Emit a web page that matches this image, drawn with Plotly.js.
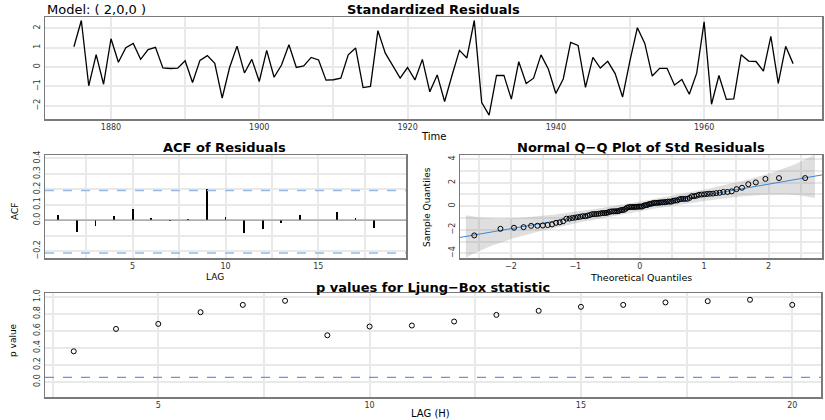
<!DOCTYPE html>
<html><head><meta charset="utf-8">
<script src="https://cdn.plot.ly/plotly-3.0.1.min.js"></script>
<style>html,body{margin:0;padding:0;background:#fff}</style>
</head><body><div id="chart" style="width:825px;height:420px"></div>
<script>
// ---------- data ----------
const startYear = 1875;
const residuals = [
 1.04, 2.39, -0.97, 0.63, -0.89, 1.45, 0.24, 0.99, 1.21, 0.39,
 0.89, 1.01, -0.05, -0.08, -0.06, 0.32, -0.80, 0.34, 0.58, 0.19,
 -1.60, -0.03, 1.07, -0.31, 0.39, -0.75, 0.85, -0.53, 0.10, 1.14,
 -0.03, 0.05, 0.49, 0.36, -0.68, -0.66, -0.58, 0.62, 0.97, -1.06,
 -1.00, 1.87, 0.71, 0.09, -0.57, -0.03, -0.67, 0.39, -1.28, -0.41,
 -1.78, -0.43, 0.85, 0.46, 2.39, -1.83, -2.48, -0.44, -0.43, -1.66,
 0.27, -0.85, -0.58, 0.62, -0.12, -1.37, -0.62, 1.26, 1.11, -1.05,
 0.49, -0.06, 0.29, -0.34, -1.55, 0.33, 2.02, 1.21, -0.47, -0.07,
 -0.07, -0.93, -0.64, -1.41, -0.32, 2.32, -1.92, -0.44, -1.67, -1.64,
 0.63, 0.30, 0.28, -0.22, 1.57, -0.85, 1.06, 0.17
];
const acfLags = [1,2,3,4,5,6,7,8,9,10,11,12,13,14,15,16,17,18,19];
const acfValues = [0.032,-0.080,-0.037,0.028,0.073,0.011,-0.004,0.009,0.200,0.019,
                   -0.084,-0.058,-0.017,0.032,0.001,0.054,0.013,-0.049,-0.002];
const lbLags = [3,4,5,6,7,8,9,10,11,12,13,14,15,16,17,18,19,20];
const lbPValues = [0.358,0.622,0.681,0.819,0.905,0.953,0.547,0.650,0.662,0.709,
                   0.787,0.835,0.882,0.905,0.934,0.949,0.965,0.905];
const modelLabel = 'Model: ( 2,0,0 )';
const pLevel = 0.05;
const bandScale = 0.32;   // width of the Q-Q envelope

// tick / grid positions and labels
const yearTicks = [1880,1890,1900,1910,1920,1930,1940,1950,1960,1970];
const yearLabels = ['1880','','1900','','1920','','1940','','1960',''];
const resTicks = [-2,-1,0,1,2];
const resLabels = ['\u22122','\u22121','0','1','2'];
const acfXTicks = [2.5,5,7.5,10,12.5,15,17.5];
const acfXLabels = ['','5','','10','','15',''];
const acfYTicks = [-0.2,-0.1,0,0.1,0.2,0.3,0.4];
const acfYLabels = ['\u22120.2','','0.0','0.1','0.2','0.3','0.4'];
const qqXTicks = [-2.5,-2,-1.5,-1,-0.5,0,0.5,1,1.5,2,2.5];
const qqXLabels = ['','\u22122','','\u22121','','0','','1','','2',''];
const qqYTicks = [-4,-3,-2,-1,0,1,2,3,4];
const qqYLabels = ['\u22124','','\u22122','','0','','2','','4'];
const lbXTicks = [2.5,5,7.5,10,12.5,15,17.5,20];
const lbXLabels = ['','5','','10','','15','','20'];
const lbYTicks = [0,0.2,0.4,0.6,0.8,1.0];
const lbYLabels = ['0.0','0.2','0.4','0.6','0.8','1.0'];

// ---------- helpers ----------
function qnorm(p){
 const a=[-3.969683028665376e+01,2.209460984245205e+02,-2.759285104469687e+02,1.383577518672690e+02,-3.066479806614716e+01,2.506628277459239e+00];
 const b=[-5.447609879822406e+01,1.615858368580409e+02,-1.556989798598866e+02,6.680131188771972e+01,-1.328068155288572e+01];
 const c=[-7.784894002430293e-03,-3.223964580411365e-01,-2.400758277161838e+00,-2.549732539343734e+00,4.374664141464968e+00,2.938163982698783e+00];
 const d=[7.784695709041462e-03,3.224671290700398e-01,2.445134137142996e+00,3.754408661907416e+00];
 const pl=0.02425; let q,r;
 if(p<pl){q=Math.sqrt(-2*Math.log(p));return (((((c[0]*q+c[1])*q+c[2])*q+c[3])*q+c[4])*q+c[5])/((((d[0]*q+d[1])*q+d[2])*q+d[3])*q+1);}
 if(p<=1-pl){q=p-0.5;r=q*q;return (((((a[0]*r+a[1])*r+a[2])*r+a[3])*r+a[4])*r+a[5])*q/(((((b[0]*r+b[1])*r+b[2])*r+b[3])*r+b[4])*r+1);}
 q=Math.sqrt(-2*Math.log(1-p));return -(((((c[0]*q+c[1])*q+c[2])*q+c[3])*q+c[4])*q+c[5])/((((d[0]*q+d[1])*q+d[2])*q+d[3])*q+1);
}
function dnorm(z){return Math.exp(-z*z/2)/Math.sqrt(2*Math.PI);}
function pnorm(z){const t=1/(1+0.2316419*Math.abs(z));const p=dnorm(z)*t*(0.319381530+t*(-0.356563782+t*(1.781477937+t*(-1.821255978+t*1.330274429))));return z>0?1-p:p;}
function quant7(s,p){const h=(s.length-1)*p,lo=Math.floor(h);return s[lo]+(h-lo)*(s[Math.min(lo+1,s.length-1)]-s[lo]);}

const n = residuals.length;
const years = residuals.map((_,i)=>startYear+i);
const sorted = residuals.slice().sort((a,b)=>a-b);
const theo = sorted.map((_,i)=>qnorm((i+1-0.5)/n));
const q1 = quant7(sorted,0.25), q3 = quant7(sorted,0.75);
const slope = (q3-q1)/(qnorm(0.75)-qnorm(0.25));
const icpt = q1 - slope*qnorm(0.25);
const bandZ = []; for(let z=-2.70; z<=2.7201; z+=0.02) bandZ.push(z);
const bandUp = bandZ.map(z=>{const P=pnorm(z);return icpt+slope*z+bandScale*Math.sqrt(P*(1-P))/dnorm(z);});
const bandLo = bandZ.map(z=>{const P=pnorm(z);return icpt+slope*z-bandScale*Math.sqrt(P*(1-P))/dnorm(z);});
const acfUpper = -1/n + 2/Math.sqrt(n), acfLower = -1/n - 2/Math.sqrt(n);

// ---------- layout geometry (pixels) ----------
const W=825,H=420;
const xd=(a,b)=>[a/W,b/W];
const yd=(t,b)=>[1-b/H,1-t/H];
const px=x=>x/W, py=y=>1-y/H;

const FONT='DejaVu Sans';
const gridC='#e9e9e9';
const base = {showline:true, mirror:true, linecolor:'#7a7a7a', linewidth:1.5,
  gridcolor:gridC, gridwidth:2, zeroline:false, ticks:'', showgrid:true, tickmode:'array',
  tickfont:{family:FONT,size:8,color:'#333'}};

const xr1=[1871.1,1975.9];
const qqX=[-2.79,2.83];

const traces = [
 {x:years, y:residuals, type:'scatter', mode:'lines', line:{color:'#000',width:1.3}, xaxis:'x', yaxis:'y', hoverinfo:'skip'},
 {x:acfLags, y:acfValues, type:'bar', width:0.1, marker:{color:'#000',line:{width:0}}, xaxis:'x2', yaxis:'y2'},
 {x:bandZ.concat(bandZ.slice().reverse()), y:bandUp.concat(bandLo.slice().reverse()), type:'scatter', mode:'lines',
  fill:'toself', fillcolor:'rgba(150,150,150,0.3)', line:{width:0}, xaxis:'x3', yaxis:'y3'},
 {x:qqX, y:qqX.map(z=>icpt+slope*z), type:'scatter', mode:'lines', line:{color:'#3d85d6',width:1}, xaxis:'x3', yaxis:'y3'},
 {x:theo, y:sorted, type:'scatter', mode:'markers', marker:{symbol:'circle-open',size:5,color:'#000',line:{width:1}}, xaxis:'x3', yaxis:'y3'},
 {x:lbLags, y:lbPValues, type:'scatter', mode:'markers', marker:{symbol:'circle-open',size:5,color:'#000',line:{width:1}}, xaxis:'x4', yaxis:'y4'}
];

const ann = (text,x,y,opt={})=>Object.assign({text, x:px(x), y:py(y), xref:'paper', yref:'paper',
  showarrow:false, xanchor:'center', yanchor:'middle', font:{family:FONT,size:10,color:'#000'}}, opt);
const bold = {font:{family:FONT,size:13,color:'#000',weight:'bold'}};
const rot = {textangle:-90,font:{family:FONT,size:9,color:'#000'}};

const layout = {
 width:W, height:H, margin:{l:0,r:0,t:0,b:0}, showlegend:false,
 paper_bgcolor:'#fff', plot_bgcolor:'#fff', bargap:0,
 xaxis: Object.assign({}, base, {domain:xd(45,822), range:xr1, anchor:'y', tickvals:yearTicks, ticktext:yearLabels}),
 yaxis: Object.assign({}, base, {domain:yd(17,119), range:[-2.68,2.57], anchor:'x', tickvals:resTicks, ticktext:resLabels, tickangle:-90}),
 xaxis2: Object.assign({}, base, {domain:xd(45,406), range:[0.28,19.72], anchor:'y2', tickvals:acfXTicks, ticktext:acfXLabels}),
 yaxis2: Object.assign({}, base, {domain:yd(155,258), range:[-0.245,0.421], anchor:'x2', tickvals:acfYTicks, ticktext:acfYLabels, tickangle:-90}),
 xaxis3: Object.assign({}, base, {domain:xd(460,822), range:qqX, anchor:'y3', tickvals:qqXTicks, ticktext:qqXLabels}),
 yaxis3: Object.assign({}, base, {domain:yd(155,258), range:[-4.4,4.35], anchor:'x3', tickvals:qqYTicks, ticktext:qqYLabels, tickangle:-90}),
 xaxis4: Object.assign({}, base, {domain:xd(45,821), range:[2.32,20.68], anchor:'y4', tickvals:lbXTicks, ticktext:lbXLabels}),
 yaxis4: Object.assign({}, base, {domain:yd(293,397), range:[-0.18,1.045], anchor:'x4', tickvals:lbYTicks, ticktext:lbYLabels, tickangle:-90}),
 shapes: [
  {type:'line', xref:'x2 domain', yref:'y2', x0:0, x1:1, y0:0, y1:0, line:{color:'#888',width:1}},
  {type:'line', xref:'x2 domain', yref:'y2', x0:0, x1:1, y0:acfUpper, y1:acfUpper, line:{color:'#8fbbe8',width:1.5,dash:'dash'}},
  {type:'line', xref:'x2 domain', yref:'y2', x0:0, x1:1, y0:acfLower, y1:acfLower, line:{color:'#8fbbe8',width:1.5,dash:'dash'}},
  {type:'line', xref:'x4 domain', yref:'y4', x0:0, x1:1, y0:pLevel, y1:pLevel, line:{color:'#5b9be0',width:1.2,dash:'dash'}}
 ],
 annotations: [
  ann(modelLabel,45,9,{xanchor:'left',font:{family:FONT,size:13,color:'#000'}}),
  ann('Standardized Residuals',433,9,bold),
  ann('Time',433,137),
  ann('ACF of Residuals',225,147,bold),
  ann('ACF',15,212,rot),
  ann('LAG',215,277,{font:{family:FONT,size:9,color:'#000'}}),
  ann('Normal Q\u2212Q Plot of Std Residuals',641,147,bold),
  ann('Sample Quantiles',427,207,rot),
  ann('Theoretical Quantiles',641,277,{font:{family:FONT,size:9.5,color:'#000'}}),
  ann('p values for Ljung\u2212Box statistic',433,287,bold),
  ann('p value',13,340,rot),
  ann('LAG (H)',430,413)
 ]
};
Plotly.newPlot('chart', traces, layout, {staticPlot:true, displayModeBar:false});
</script></body></html>
